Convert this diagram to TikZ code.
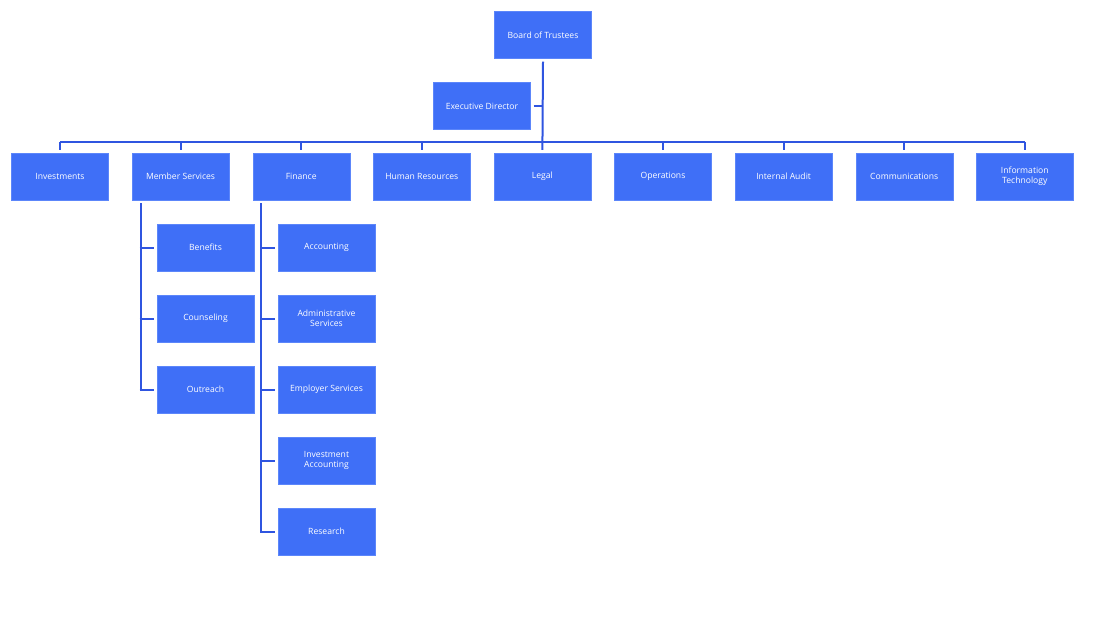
\documentclass[tikz,border=0pt]{standalone}
\usepackage{fontspec}
\setmainfont{Open Sans}
\usetikzlibrary{positioning}
\definecolor{boxblue}{HTML}{3F6FF7}
\definecolor{boxedge}{HTML}{5C86FA}
\definecolor{lineblue}{HTML}{2F55E0}
\tikzset{
  unit/.style={draw=boxedge, fill=boxblue, text=white, minimum width=97pt, minimum height=47pt,
    inner sep=1pt, align=center, font=\fontsize{8.6}{10}\selectfont},
  link/.style={draw=lineblue, line width=2pt}
}
\begin{document}
\begin{tikzpicture}[x=1pt,y=-1pt]
\useasboundingbox (0,0) rectangle (1113,634);
\node[unit] (board) at (543,35) {Board of Trustees};
\node[unit] (exec) at (482,106) {Executive Director};
% top row
\foreach \name/\txt [count=\i from 0] in {inv/Investments, mem/Member Services, fin/Finance,
  hr/Human Resources, legal/Legal, ops/Operations, audit/Internal Audit,
  comm/Communications, it/Information\\Technology}
  \node[unit] (\name) at (60+120.6*\i,176.5) {\txt};
% member services units
\node[unit] (ben) at (205.5,247.5) {Benefits};
\node[unit] (coun) at (205.5,318.5) {Counseling};
\node[unit] (outr) at (205.5,389.5) {Outreach};
% finance units
\node[unit] (acct) at (326.5,247.5) {Accounting};
\node[unit] (adm) at (326.5,318.5) {Administrative\\Services};
\node[unit] (emp) at (326.5,389.5) {Employer Services};
\node[unit] (ia) at (326.5,460.5) {Investment\\Accounting};
\node[unit] (res) at (326.5,531.5) {Research};
% connectors
\coordinate (bus) at (0,142);
\coordinate (memspine) at ([xshift=-40pt,yshift=-3pt]mem.south);
\coordinate (finspine) at ([xshift=-40pt,yshift=-3pt]fin.south);
\draw[link] ([yshift=-3pt]board.south) -- ([yshift=3pt]legal.north);
\draw[link] ([xshift=3pt]exec.east) -- (exec.east -| board.south);
\draw[link] (inv.north |- bus) -- (it.north |- bus);
\foreach \name in {inv,mem,fin,hr,ops,audit,comm,it}
  \draw[link] (\name.north |- bus) -- ([yshift=3pt]\name.north);
\draw[link] (memspine) -- (memspine |- outr.west);
\foreach \name in {ben,coun,outr}
  \draw[link] ([xshift=-1pt]memspine |- \name.west) -- ([xshift=-3pt]\name.west);
\draw[link] (finspine) -- (finspine |- res.west);
\foreach \name in {acct,adm,emp,ia,res}
  \draw[link] ([xshift=-1pt]finspine |- \name.west) -- ([xshift=-3pt]\name.west);
\end{tikzpicture}
\end{document}
